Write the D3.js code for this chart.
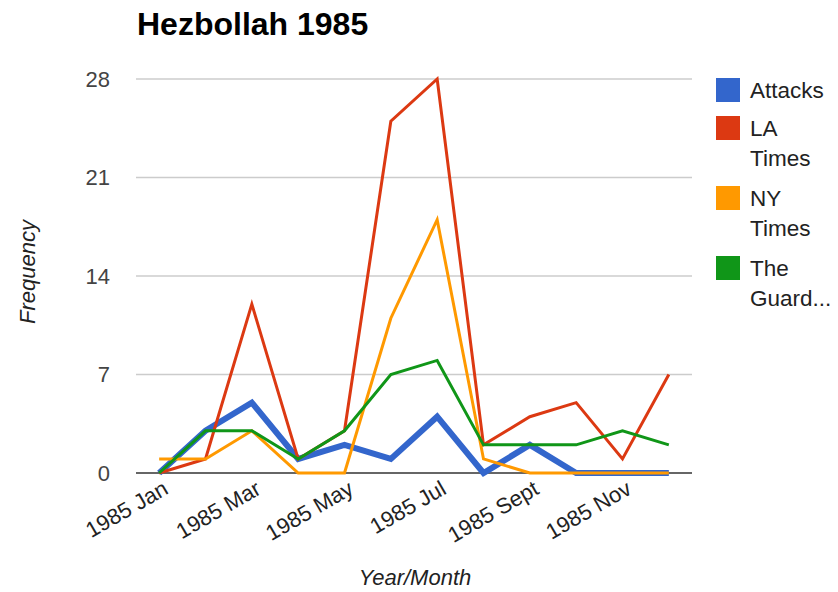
<!DOCTYPE html>
<html>
<head>
<meta charset="utf-8">
<script src="https://cdn.jsdelivr.net/npm/d3@7"></script>
<style>
  body { margin: 0; background: #fff; }
  text { font-family: "Liberation Sans", Arial, sans-serif; }
</style>
</head>
<body>
<svg id="chart" width="838" height="592"></svg>
<script>
var months = ["1985 Jan", "1985 Feb", "1985 Mar", "1985 Apr", "1985 May", "1985 Jun",
              "1985 Jul", "1985 Aug", "1985 Sept", "1985 Oct", "1985 Nov", "1985 Dec"];
var shownLabels = ["1985 Jan", "1985 Mar", "1985 May", "1985 Jul", "1985 Sept", "1985 Nov"];
var yTicks = [0, 7, 14, 21, 28];

var attacks  = [0, 3, 5, 1, 2, 1, 4, 0, 2, 0, 0, 0];
var laTimes  = [0, 1, 12, 1, 3, 25, 28, 2, 4, 5, 1, 7];
var nyTimes  = [1, 1, 3, 0, 0, 11, 18, 1, 0, 0, 0, 0];
var guardian = [0, 3, 3, 1, 3, 7, 8, 2, 2, 2, 3, 2];

var seriesNames = ["Attacks", "LA Times", "NY Times", "The Guardian"];
var legendLines = [["Attacks"], ["LA", "Times"], ["NY", "Times"], ["The", "Guard..."]];
var colors = ["#3366cc", "#dc3912", "#ff9900", "#109618"];

var series = [attacks, laTimes, nyTimes, guardian];

var svg = d3.select("#chart");
var padding = { top: 79, right: 146, bottom: 119, left: 136 };
var width = +svg.attr("width");
var height = +svg.attr("height");

var xScale = d3.scalePoint()
               .domain(months)
               .range([padding.left, width - padding.right])
               .padding(0.5);

var yScale = d3.scaleLinear()
               .domain([0, 28])
               .range([height - padding.bottom, padding.top]);

// grid
svg.append("g")
    .selectAll("line")
    .data(yTicks.filter(d => d > 0))
    .enter()
    .append("line")
      .attr("x1", padding.left)
      .attr("x2", width - padding.right)
      .attr("y1", d => yScale(d))
      .attr("y2", d => yScale(d))
      .attr("stroke", "#cccccc")
      .attr("stroke-width", 1.5);

// baseline (under the lines)
svg.append("line")
    .attr("x1", padding.left)
    .attr("x2", width - padding.right)
    .attr("y1", yScale(0))
    .attr("y2", yScale(0))
    .attr("stroke", "#333")
    .attr("stroke-width", 1.5);

// y tick labels
var yAxis = d3.axisLeft(yScale).tickValues(yTicks).tickSize(0).tickPadding(26);
svg.append("g")
    .attr("transform", "translate(" + padding.left + ",0)")
    .call(yAxis)
    .call(g => g.select(".domain").remove())
    .selectAll("text")
      .attr("font-family", "Liberation Sans, Arial, sans-serif")
      .attr("font-size", 22)
      .attr("fill", "#444");

// x axis labels
var xAxis = d3.axisBottom(xScale).tickValues(shownLabels).tickSize(0).tickPadding(0);
svg.append("g")
    .attr("transform", "translate(0," + (height - padding.bottom) + ")")
    .call(xAxis)
    .call(g => g.select(".domain").remove())
    .selectAll("text")
      .attr("font-family", "Liberation Sans, Arial, sans-serif")
      .attr("font-size", 22)
      .attr("fill", "#222")
      .attr("text-anchor", "end")
      .attr("dy", 0)
      .attr("transform", "translate(10,20) rotate(-30)");

// lines
var line = d3.line()
             .x((d, i) => xScale(months[i]))
             .y(d => yScale(d));

svg.append("g")
    .selectAll("path")
    .data(series)
    .enter()
    .append("path")
      .attr("d", d => line(d))
      .attr("fill", "none")
      .attr("stroke", (d, i) => colors[i])
      .attr("stroke-width", (d, i) => i === 0 ? 6 : 3)
      .attr("stroke-linejoin", "miter");

// title
svg.append("text")
    .attr("x", 137)
    .attr("y", 35)
    .attr("font-size", 32)
    .attr("font-weight", "bold")
    .attr("fill", "#000")
    .text("Hezbollah 1985");

// axis titles
svg.append("text")
    .attr("x", 415)
    .attr("y", 585)
    .attr("text-anchor", "middle")
    .attr("font-size", 22)
    .attr("font-style", "italic")
    .attr("fill", "#222")
    .text("Year/Month");

svg.append("text")
    .attr("transform", "translate(35,272) rotate(-90)")
    .attr("text-anchor", "middle")
    .attr("font-size", 22)
    .attr("font-style", "italic")
    .attr("fill", "#222")
    .text("Frequency");

// legend
var legendY = [90, 128, 198, 268];
var legend = svg.append("g")
    .selectAll("g")
    .data(seriesNames)
    .enter()
    .append("g")
      .attr("transform", (d, i) => "translate(716," + legendY[i] + ")");

legend.append("rect")
    .attr("x", 0)
    .attr("y", -12)
    .attr("width", 24)
    .attr("height", 24)
    .attr("fill", (d, i) => colors[i]);

legend.append("text")
    .attr("x", 34)
    .attr("y", 8)
    .attr("font-size", 22.5)
    .attr("fill", "#222")
    .selectAll("tspan")
    .data((d, i) => legendLines[i])
    .enter()
    .append("tspan")
      .attr("x", 34)
      .attr("dy", (d, j) => j === 0 ? 0 : 30)
      .text(d => d);
</script>
</body>
</html>
